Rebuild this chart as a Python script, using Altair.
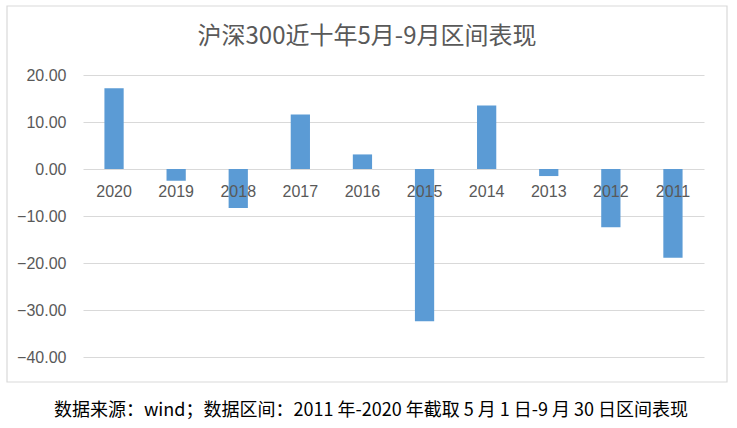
import altair as alt
import pandas as pd

years = ["2020", "2019", "2018", "2017", "2016", "2015", "2014", "2013", "2012", "2011"]
values = [17.2, -2.5, -8.3, 11.6, 3.1, -32.4, 13.5, -1.5, -12.4, -18.9]
y_ticks = [-40, -30, -20, -10, 0, 10, 20]

title_text = "沪深300近十年5月-9月区间表现"
footer_text = "数据来源：wind；数据区间：2011 年-2020 年截取 5 月 1 日-9 月 30 日区间表现"

df = pd.DataFrame({"year": years, "value": values})

GRAY = "#595959"
BLUE = "#5B9BD5"

x_enc = alt.X("year:N", sort=years, axis=None,
              scale=alt.Scale(paddingInner=0.69, paddingOuter=0.345))
y_scale = alt.Scale(domain=[-40, 20], nice=False, zero=True)

base = alt.Chart(df)

bars = base.mark_bar(color=BLUE).encode(
    x=x_enc,
    y=alt.Y("value:Q", scale=y_scale,
            axis=alt.Axis(values=y_ticks, format=".2f", title=None,
                          domain=False, ticks=False, labelPadding=17,
                          labelFontSize=16, labelColor=GRAY,
                          labelFont="Liberation Sans",
                          gridColor="#D9D9D9", gridWidth=1.2)),
)

labels = base.mark_text(fontSize=16, font="Liberation Sans", color=GRAY,
                        baseline="middle", dy=23).encode(
    x=x_enc,
    y=alt.Y("zero:Q", scale=y_scale),
    text="year:N",
).transform_calculate(zero="0")

border = alt.Chart(pd.DataFrame({"a": [0]})).mark_rect(
    fill="transparent", stroke="#D9D9D9", strokeWidth=1.2
).encode(
    x=alt.value(-76), x2=alt.value(644),
    y=alt.value(-69), y2=alt.value(307),
)

title = alt.Chart(pd.DataFrame({"t": [title_text]})).mark_text(
    fontSize=24, font="Noto Sans CJK SC", color=GRAY,
    align="center", baseline="middle"
).encode(
    x=alt.value(284), y=alt.value(-38), text="t:N"
)

footer = alt.Chart(pd.DataFrame({"t": [footer_text]})).mark_text(
    fontSize=18, font="Noto Sans CJK SC", color="#000000",
    align="center", baseline="middle"
).encode(
    x=alt.value(288), y=alt.value(336), text="t:N"
)

chart = alt.layer(border, bars, labels, title, footer).properties(
    width=621,
    height=282,
    background="white",
    autosize=alt.AutoSizeParams(type="none"),
    padding={"left": 83, "top": 75, "right": 33, "bottom": 71},
).configure_view(strokeWidth=0, stroke=None)

chart.save("out.html", embed_options={"renderer": "svg", "actions": False})
